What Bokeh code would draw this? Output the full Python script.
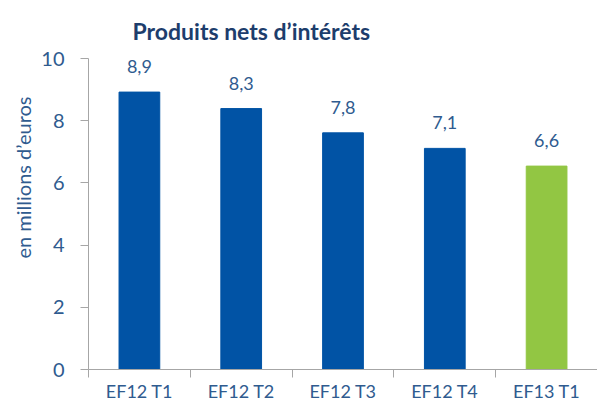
from bokeh.plotting import figure
from bokeh.models import ColumnDataSource, FixedTicker, Range1d, LabelSet, Title
from bokeh.core.properties import value
from bokeh.embed import file_html
from bokeh.resources import INLINE

categories = ["EF12 T1", "EF12 T2", "EF12 T3", "EF12 T4", "EF13 T1"]
bar_values = [8.92, 8.39, 7.61, 7.11, 6.54]
value_labels = ["8,9", "8,3", "7,8", "7,1", "6,6"]
bar_colors = ["#0153A5", "#0153A5", "#0153A5", "#0153A5", "#92C643"]
y_ticks = [0, 2, 4, 6, 8, 10]

FONT = "Lato"
TEXT_COLOR = "#2F5B8F"
AXIS_COLOR = "#A6A6A6"

xs = list(range(1, len(categories) + 1))
source = ColumnDataSource(dict(x=xs, top=bar_values, color=bar_colors, label=value_labels))

p = figure(width=597, height=404, output_backend="svg", toolbar_location=None,
           x_range=Range1d(0.5, len(categories) + 0.5), y_range=Range1d(0, 10),
           min_border_left=88, min_border_right=0, min_border_top=57, min_border_bottom=32)
p.outline_line_color = None
p.grid.visible = False

p.vbar(x="x", top="top", width=0.4, color="color", source=source)

p.add_layout(LabelSet(x="x", y="top", text="label", source=source, y_offset=19,
                      text_align="center", text_baseline="alphabetic",
                      text_font=value(FONT), text_font_size="18px", text_color=TEXT_COLOR))

# x axis: labels at centers, tick marks at category boundaries
xa = p.xaxis[0]
xa.ticker = FixedTicker(ticks=xs, minor_ticks=[x - 0.5 for x in xs] + [xs[-1] + 0.5])
xa.major_label_overrides = {x: c for x, c in zip(xs, categories)}
xa.major_tick_out = 0
xa.major_tick_in = 0
xa.minor_tick_out = 8
xa.minor_tick_in = 0
xa.minor_tick_line_color = AXIS_COLOR
xa.axis_line_color = AXIS_COLOR
xa.major_label_standoff = 2
xa.major_label_text_font = FONT
xa.major_label_text_font_size = "18px"
xa.major_label_text_color = TEXT_COLOR

ya = p.yaxis[0]
ya.ticker = FixedTicker(ticks=y_ticks, minor_ticks=[])
ya.major_tick_out = 8
ya.major_tick_in = 0
ya.major_tick_line_color = AXIS_COLOR
ya.axis_line_color = AXIS_COLOR
ya.major_label_standoff = 16
ya.major_label_text_font = FONT
ya.major_label_text_font_size = "20px"
ya.major_label_text_color = TEXT_COLOR

p.add_layout(Title(text="Produits nets d\u2019intérêts", align="left", offset=44,
                   standoff=28, text_font=FONT, text_font_size="23px",
                   text_font_style="bold", text_color="#1D3D6C"), "above")

p.add_layout(Title(text="en millions d\u2019euros", align="left", offset=111,
                   standoff=8, text_font=FONT, text_font_size="20px",
                   text_font_style="normal", text_color=TEXT_COLOR), "left")

open("out.html", "w").write(file_html(p, INLINE))
